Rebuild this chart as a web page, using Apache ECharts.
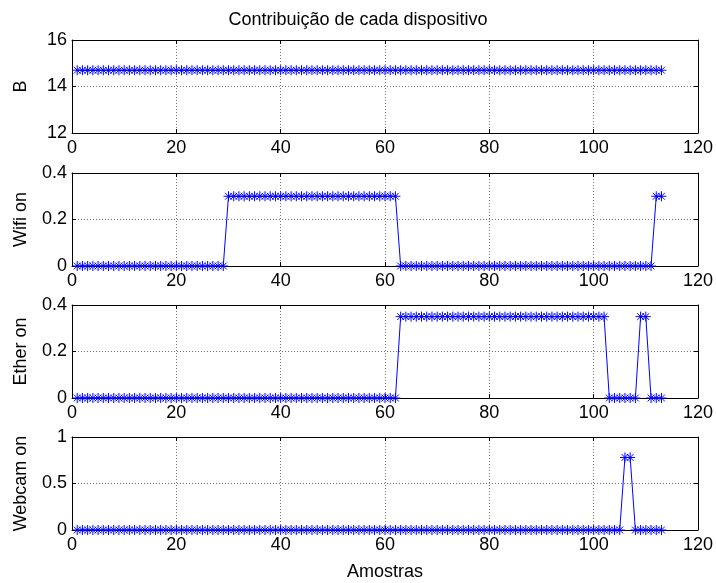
<!DOCTYPE html>
<html>
<head>
<meta charset="utf-8">
<title>Contribuição de cada dispositivo</title>
<script src="https://cdn.jsdelivr.net/npm/echarts@6/dist/echarts.min.js"></script>
<style>
  html, body { margin: 0; padding: 0; background: #fff; }
  #chart { width: 716px; height: 583px; }
</style>
</head>
<body>
<div id="chart"></div>
<script>
const panelNames = ["B", "Wifi on", "Ether on", "Webcam on"];
const xTicks = [0, 120, 20];

const bValues = [
    14.7, 14.7, 14.7, 14.7, 14.7, 14.7, 14.7, 14.7, 14.7, 14.7,
    14.7, 14.7, 14.7, 14.7, 14.7, 14.7, 14.7, 14.7, 14.7, 14.7,
    14.7, 14.7, 14.7, 14.7, 14.7, 14.7, 14.7, 14.7, 14.7, 14.7,
    14.7, 14.7, 14.7, 14.7, 14.7, 14.7, 14.7, 14.7, 14.7, 14.7,
    14.7, 14.7, 14.7, 14.7, 14.7, 14.7, 14.7, 14.7, 14.7, 14.7,
    14.7, 14.7, 14.7, 14.7, 14.7, 14.7, 14.7, 14.7, 14.7, 14.7,
    14.7, 14.7, 14.7, 14.7, 14.7, 14.7, 14.7, 14.7, 14.7, 14.7,
    14.7, 14.7, 14.7, 14.7, 14.7, 14.7, 14.7, 14.7, 14.7, 14.7,
    14.7, 14.7, 14.7, 14.7, 14.7, 14.7, 14.7, 14.7, 14.7, 14.7,
    14.7, 14.7, 14.7, 14.7, 14.7, 14.7, 14.7, 14.7, 14.7, 14.7,
    14.7, 14.7, 14.7, 14.7, 14.7, 14.7, 14.7, 14.7, 14.7, 14.7,
    14.7, 14.7, 14.7
];

const wifiValues = [
    0, 0, 0, 0, 0, 0, 0, 0, 0, 0,
    0, 0, 0, 0, 0, 0, 0, 0, 0, 0,
    0, 0, 0, 0, 0, 0, 0, 0, 0, 0.3,
    0.3, 0.3, 0.3, 0.3, 0.3, 0.3, 0.3, 0.3, 0.3, 0.3,
    0.3, 0.3, 0.3, 0.3, 0.3, 0.3, 0.3, 0.3, 0.3, 0.3,
    0.3, 0.3, 0.3, 0.3, 0.3, 0.3, 0.3, 0.3, 0.3, 0.3,
    0.3, 0.3, 0, 0, 0, 0, 0, 0, 0, 0,
    0, 0, 0, 0, 0, 0, 0, 0, 0, 0,
    0, 0, 0, 0, 0, 0, 0, 0, 0, 0,
    0, 0, 0, 0, 0, 0, 0, 0, 0, 0,
    0, 0, 0, 0, 0, 0, 0, 0, 0, 0,
    0, 0.3, 0.3
];

const etherValues = [
    0, 0, 0, 0, 0, 0, 0, 0, 0, 0,
    0, 0, 0, 0, 0, 0, 0, 0, 0, 0,
    0, 0, 0, 0, 0, 0, 0, 0, 0, 0,
    0, 0, 0, 0, 0, 0, 0, 0, 0, 0,
    0, 0, 0, 0, 0, 0, 0, 0, 0, 0,
    0, 0, 0, 0, 0, 0, 0, 0, 0, 0,
    0, 0, 0.35, 0.35, 0.35, 0.35, 0.35, 0.35, 0.35, 0.35,
    0.35, 0.35, 0.35, 0.35, 0.35, 0.35, 0.35, 0.35, 0.35, 0.35,
    0.35, 0.35, 0.35, 0.35, 0.35, 0.35, 0.35, 0.35, 0.35, 0.35,
    0.35, 0.35, 0.35, 0.35, 0.35, 0.35, 0.35, 0.35, 0.35, 0.35,
    0.35, 0.35, 0, 0, 0, 0, 0, 0, 0.35, 0.35,
    0, 0, 0
];

const webcamValues = [
    0, 0, 0, 0, 0, 0, 0, 0, 0, 0,
    0, 0, 0, 0, 0, 0, 0, 0, 0, 0,
    0, 0, 0, 0, 0, 0, 0, 0, 0, 0,
    0, 0, 0, 0, 0, 0, 0, 0, 0, 0,
    0, 0, 0, 0, 0, 0, 0, 0, 0, 0,
    0, 0, 0, 0, 0, 0, 0, 0, 0, 0,
    0, 0, 0, 0, 0, 0, 0, 0, 0, 0,
    0, 0, 0, 0, 0, 0, 0, 0, 0, 0,
    0, 0, 0, 0, 0, 0, 0, 0, 0, 0,
    0, 0, 0, 0, 0, 0, 0, 0, 0, 0,
    0, 0, 0, 0, 0, 0.78, 0.78, 0, 0, 0,
    0, 0, 0
];

// y ranges per panel: [min, max, interval]
const yRanges = [
    [12, 16, 2],
    [0, 0.4, 0.2],
    [0, 0.4, 0.2],
    [0, 1, 0.5]
];

const panelValues = [bValues, wifiValues, etherValues, webcamValues];

const font = "'Liberation Sans', Arial, sans-serif";
const blue = "#0000ff";
const gridTops = [40, 173, 305, 437];
const asterisk = "path://M0,5L10,5M5,0L5,10M1.6,1.6L8.4,8.4M8.4,1.6L1.6,8.4";

const grids = [];
const xAxes = [];
const yAxes = [];
const series = [];

panelValues.forEach((vals, i) => {
    grids.push({ left: 72, right: 18, top: gridTops[i], height: 93 });

    const lineStyle = { color: "#000", width: 1 };
    const tick = { show: true, inside: true, length: 4, lineStyle: lineStyle };

    // bottom x axis with labels
    xAxes.push({
        type: "value", gridIndex: i,
        min: xTicks[0], max: xTicks[1], interval: xTicks[2],
        axisLine: { show: true, onZero: false, lineStyle: lineStyle },
        axisTick: tick,
        axisLabel: { fontFamily: font, fontSize: 18, color: "#000", margin: 6 },
        splitLine: { show: true, lineStyle: { color: "#777", type: [1, 2], width: 1 } },
        name: i === 3 ? "Amostras" : "",
        nameLocation: "middle",
        nameGap: 33,
        nameTextStyle: { fontFamily: font, fontSize: 18, color: "#000" }
    });
    // top x axis: box edge and ticks only
    xAxes.push({
        type: "value", gridIndex: i, position: "top",
        min: xTicks[0], max: xTicks[1], interval: xTicks[2],
        axisLine: { show: true, onZero: false, lineStyle: lineStyle },
        axisTick: tick,
        axisLabel: { show: false },
        splitLine: { show: false }
    });

    yAxes.push({
        type: "value", gridIndex: i,
        min: yRanges[i][0], max: yRanges[i][1], interval: yRanges[i][2],
        axisLine: { show: true, onZero: false, lineStyle: lineStyle },
        axisTick: tick,
        axisLabel: { fontFamily: font, fontSize: 18, color: "#000", margin: 5 },
        splitLine: { show: true, lineStyle: { color: "#777", type: [1, 2], width: 1 } },
        name: panelNames[i],
        nameLocation: "middle",
        nameGap: 42,
        nameTextStyle: { fontFamily: font, fontSize: 18, color: "#000" }
    });
    yAxes.push({
        type: "value", gridIndex: i, position: "right",
        min: yRanges[i][0], max: yRanges[i][1], interval: yRanges[i][2],
        axisLine: { show: true, onZero: false, lineStyle: lineStyle },
        axisTick: tick,
        axisLabel: { show: false },
        splitLine: { show: false }
    });

    series.push({
        type: "line",
        name: panelNames[i],
        xAxisIndex: i * 2,
        yAxisIndex: i * 2,
        data: vals.map((v, k) => [k + 1, v]),
        showAllSymbol: true,
        symbol: asterisk,
        symbolSize: 10,
        lineStyle: { color: blue, width: 1 },
        itemStyle: { color: blue, borderColor: blue, borderWidth: 1 },
        animation: false
    });
});

const chart = echarts.init(document.getElementById("chart"));
chart.setOption({
    animation: false,
    title: {
        text: "Contribuição de cada dispositivo",
        left: "center",
        top: 6,
        textStyle: { fontFamily: font, fontSize: 18, fontWeight: "normal", color: "#000" }
    },
    grid: grids,
    xAxis: xAxes,
    yAxis: yAxes,
    series: series
});
</script>
</body>
</html>
